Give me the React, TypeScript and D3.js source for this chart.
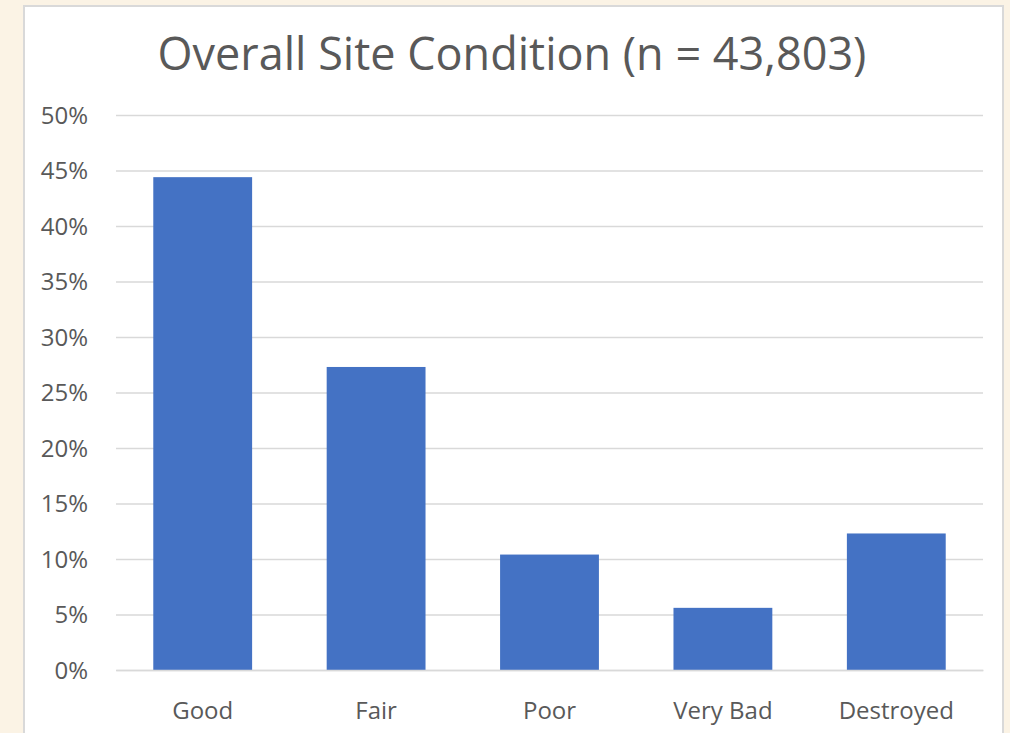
import React, { useRef, useEffect } from 'react';
import { select, scaleBand, scaleLinear, axisLeft, axisBottom } from 'd3';

const categories = ['Good', 'Fair', 'Poor', 'Very Bad', 'Destroyed'];
const shares = [44.4, 27.3, 10.4, 5.6, 12.3];
const yTicks = [0, 5, 10, 15, 20, 25, 30, 35, 40, 45, 50];
const title = 'Overall Site Condition (n = 43,803)';

function App() {
  const ref = useRef<SVGSVGElement>(null);

  useEffect(() => {
    const width = 1010, height = 733;
    const margin = { top: 115, right: 27, bottom: 63, left: 116 };
    const innerW = width - margin.left - margin.right;
    const innerH = height - margin.top - margin.bottom;
    const font = "'Open Sans', 'Noto Sans', sans-serif";

    const svg = select(ref.current);
    svg.selectAll('*').remove();

    // page + chart panel
    svg.append('rect').attr('width', width).attr('height', height).attr('fill', '#fbf3e5');
    svg.append('rect')
      .attr('x', 24).attr('y', 6).attr('width', 979).attr('height', 740)
      .attr('fill', '#ffffff').attr('stroke', '#d9d9d9').attr('stroke-width', 2);

    svg.append('text')
      .attr('x', 512).attr('y', 70)
      .attr('text-anchor', 'middle')
      .attr('font-family', font).attr('font-size', 45)
      .attr('fill', '#595959')
      .text(title);

    const g = svg.append('g').attr('transform', `translate(${margin.left},${margin.top})`);

    const x = scaleBand().domain(categories).range([0, innerW]).paddingInner(0.43).paddingOuter(0.215);
    const y = scaleLinear().domain([0, 50]).range([innerH, 0]);

    // gridlines + y labels
    const yAxis = g.append('g')
      .call(axisLeft(y).tickValues(yTicks).tickSize(-innerW).tickPadding(28).tickFormat(d => `${d}%`));
    yAxis.select('.domain').remove();
    yAxis.selectAll('line').attr('stroke', '#d9d9d9').attr('stroke-width', 1.3);
    yAxis.selectAll('text')
      .attr('font-family', font).attr('font-size', 24).attr('fill', '#595959').attr('dy', '0.35em');

    g.selectAll('rect.bar')
      .data(shares)
      .join('rect')
      .attr('class', 'bar')
      .attr('x', (_, i) => x(categories[i]) as number)
      .attr('width', x.bandwidth())
      .attr('y', d => y(d))
      .attr('height', d => innerH - y(d))
      .attr('fill', '#4472c4');

    const xAxis = g.append('g')
      .attr('transform', `translate(0,${innerH})`)
      .call(axisBottom(x).tickSize(0).tickPadding(32));
    xAxis.select('.domain').attr('stroke', '#d9d9d9').attr('stroke-width', 1.3);
    xAxis.selectAll('text')
      .attr('font-family', font).attr('font-size', 24).attr('fill', '#595959');
  }, []);

  return (
    <svg ref={ref} width={1010} height={733}
      style={{ position: 'absolute', left: 0, top: 0, display: 'block' }} />
  );
}

export default App;
